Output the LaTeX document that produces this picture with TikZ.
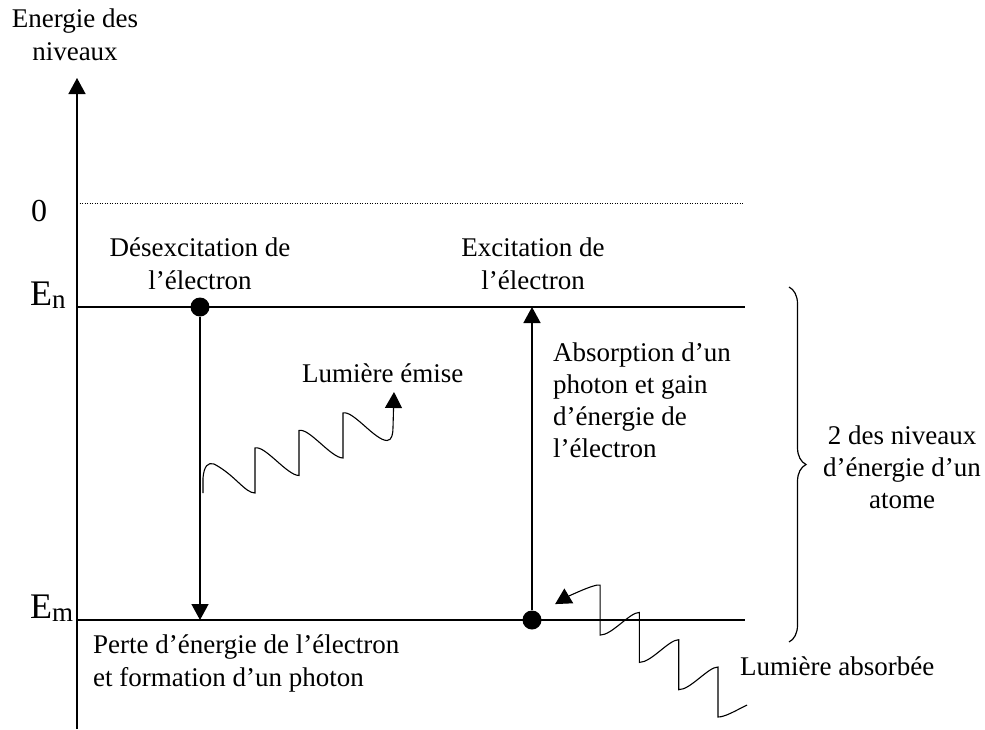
\documentclass[tikz,border=0pt]{standalone}
\usepackage{fontspec}
\setmainfont{Liberation Serif}
\usetikzlibrary{arrows.meta,decorations.pathreplacing}

\begin{document}
\begin{tikzpicture}[x=1pt, y=-1pt,
    level/.style={line width=1.5pt},
    photon/.style={line width=1.1pt},
    tip/.style={-{Triangle[length=16pt,width=17pt]}},
    electron/.style={circle, fill, inner sep=0pt, minimum size=19pt},
    txt/.style={font=\fontsize{27}{32}\selectfont, inner sep=0pt},
    big/.style={font=\fontsize{36}{36}\selectfont, inner sep=0pt}]
    \useasboundingbox (0,0) rectangle (985,729);

    % axe des energies
    \coordinate (axisbot) at (77,729);
    \coordinate (axistop) at (77,78);
    \draw[level, tip] (axisbot) -- (axistop);
    \node[txt, align=center, anchor=north] (axislabel) at (75,5) {\strut Energie des\\[1pt]niveaux};

    % niveaux
    \coordinate (zeroL) at (77,203);
    \coordinate (zeroR) at (743,203);
    \coordinate (EnL) at (77,307);
    \coordinate (EnR) at (745,307);
    \coordinate (EmL) at (77,620);
    \coordinate (EmR) at (745,620);
    \draw[line width=1pt, dash pattern=on 1pt off 1.5pt] (zeroL) -- (zeroR);
    \draw[level] (EnL) -- (EnR);
    \draw[level] (EmL) -- (EmR);
    \node[anchor=base, inner sep=0pt, font=\fontsize{32}{32}\selectfont] (zero) at (39,221) {0};
    \node[big, anchor=base west] (En) at (30,305) {E\raisebox{-3pt}{\fontsize{27}{27}\selectfont n}};
    \node[big, anchor=base west] (Em) at (30,618) {E\raisebox{-3pt}{\fontsize{27}{27}\selectfont m}};

    % desexcitation
    \node[electron] (dotN) at (200,307) {};
    \coordinate (fallN) at (200,620);
    \draw[level, tip] (dotN) -- (fallN);
    \node[txt, align=center, anchor=north] (desexc) at (200,234) {\strut Désexcitation de\\[1pt]l’électron};
    \node[txt, align=left, anchor=north west] (perte) at (93,631) {\strut Perte d’énergie de l’électron\\[1pt]et formation d’un photon};

    % excitation
    \node[electron] (dotM) at (532,620) {};
    \coordinate (riseM) at (532,307);
    \draw[level, tip] (dotM) -- (riseM);
    \node[txt, align=center, anchor=north] (exc) at (533,234) {\strut Excitation de\\[1pt]l’électron};
    \node[txt, align=left, anchor=north west] (absorb) at (553,339) {\strut Absorption d’un\\photon et gain\\d’énergie de\\l’électron};

    % photon emis
    \draw[photon, tip] (203,493) -- (203,478) .. controls (204,466) and (208,462) .. (214,464)
        .. controls (235,475) and (245,493) .. (255,493)
        \foreach \k in {0,1,2} { -- ++(0,-45) .. controls +(10,-3) and +(-12,0) .. ++(44,27.5) }
        .. controls +(5,0) and +(0,6) .. ++(6,-13) -- ++(1,-35.5);
    \node[txt, anchor=base west] (emise) at (302,382) {Lumière émise};

    % photon absorbe
    \draw[photon, tip] (747,705) .. controls (735,711) and (725,717) .. (718,717)
        \foreach \k in {0,1,2} { -- ++(0,-50) .. controls +(-10,0) and +(12,0) .. ++(-39.3,22.7) }
        -- ++(0,-50) .. controls +(-5,-2) and +(10,-6) .. ++(-45,19);
    \node[txt, anchor=base west] (absorbee) at (740,675) {Lumière absorbée};

    % accolade
    \coordinate (braceTop) at (789,287);
    \coordinate (braceBot) at (789,642);
    \draw[line width=1.2pt, decorate, decoration={brace, amplitude=17pt}] (braceTop) -- (braceBot);
    \node[txt, align=center, anchor=north] (atome) at (902,422) {\strut 2 des niveaux\\d’énergie d’un\\atome};

\end{tikzpicture}
\end{document}
